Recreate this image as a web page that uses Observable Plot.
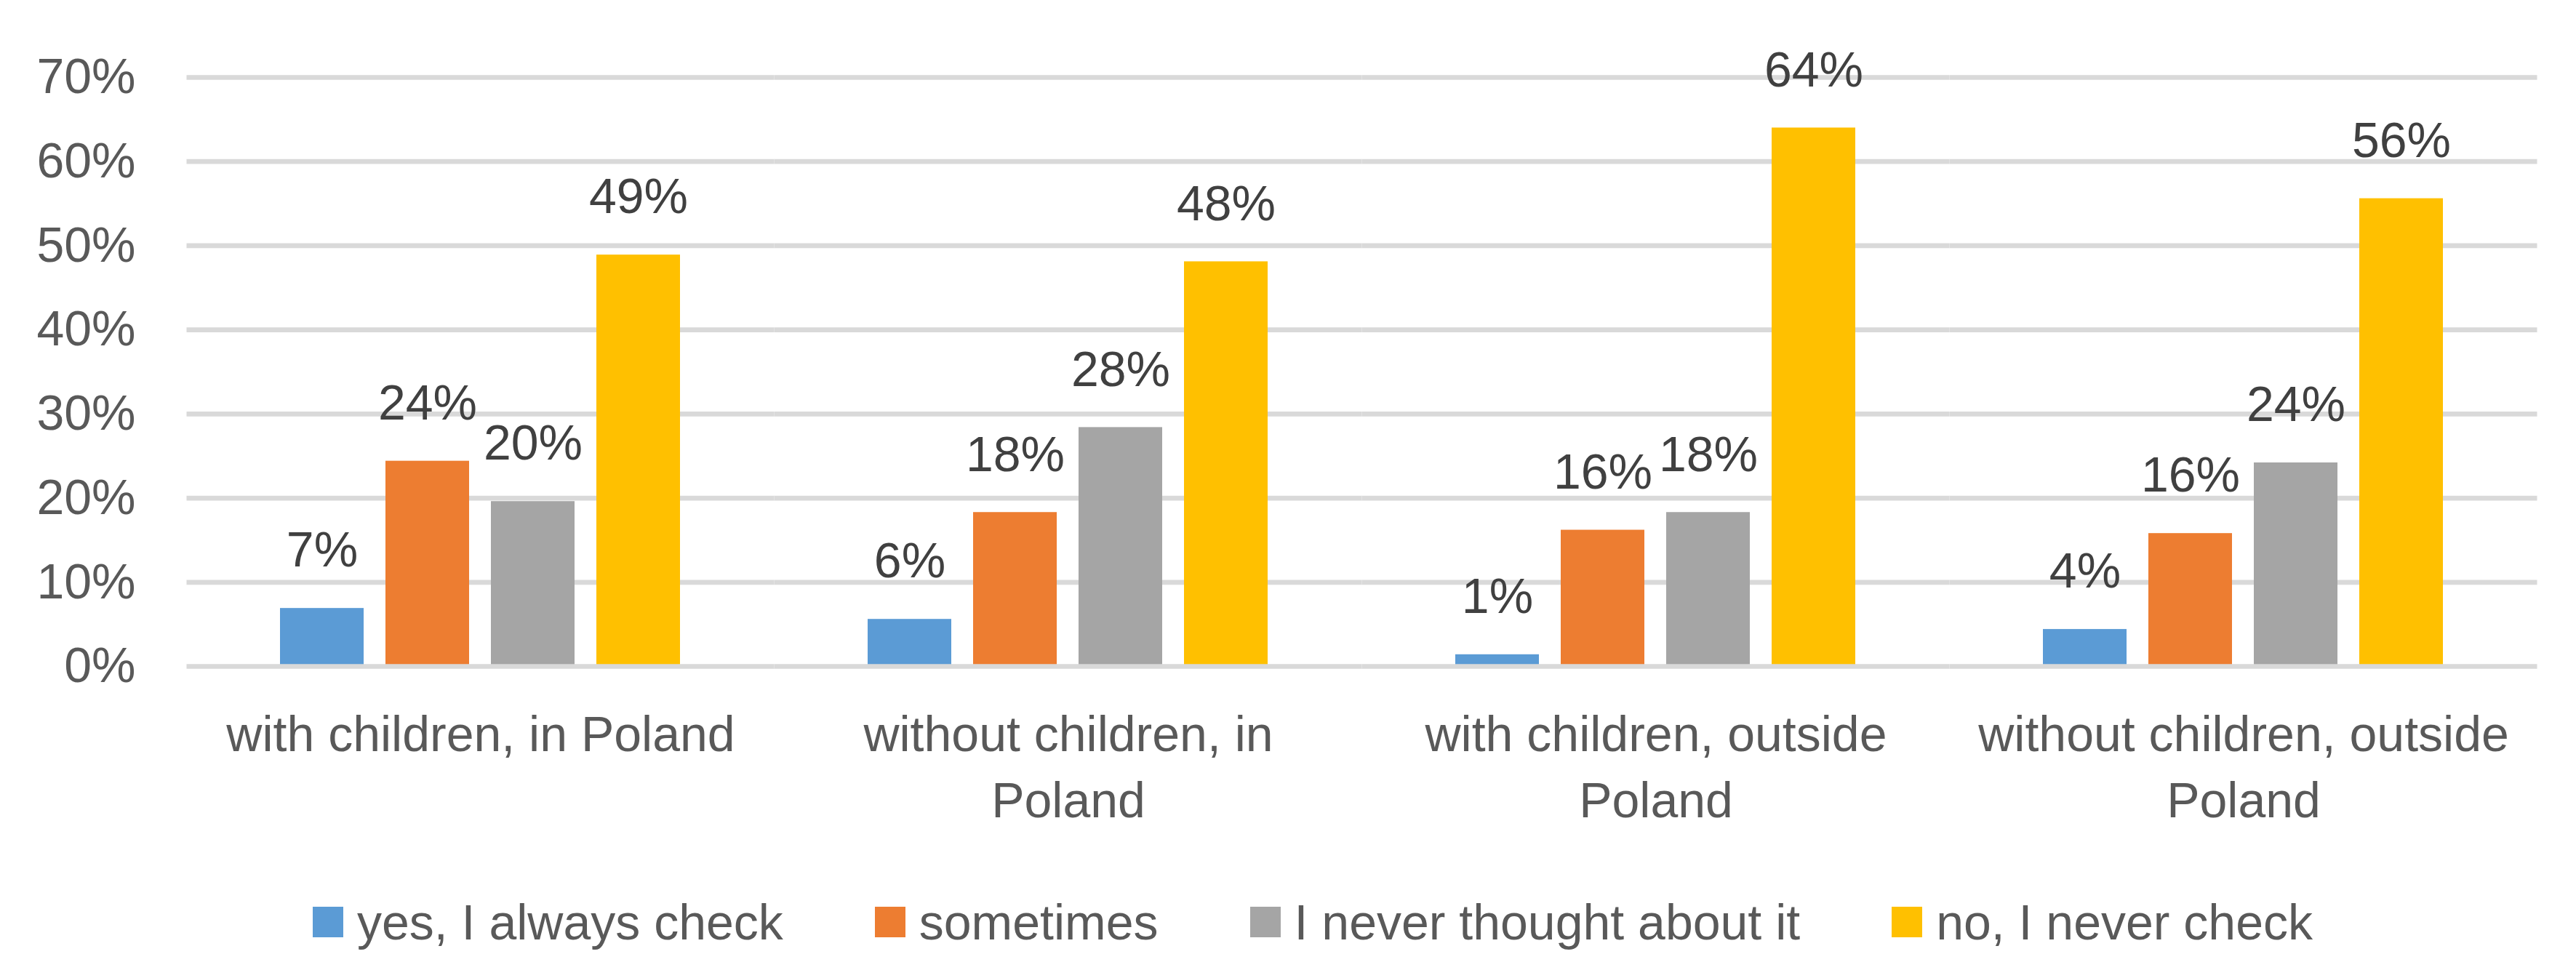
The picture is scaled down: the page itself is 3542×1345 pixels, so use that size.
<!DOCTYPE html>
<html>
<head>
<meta charset="utf-8">
<script src="https://cdn.jsdelivr.net/npm/d3@7"></script>
<script src="https://cdn.jsdelivr.net/npm/@observablehq/plot@0.6"></script>
<style>
  html, body { margin: 0; padding: 0; background: #fff; }
  #chart { width: 3542px; }
  #legend { width: 3542px; height: 155px; }
  #legend > div {
    display: flex; justify-content: center; align-items: center; flex-wrap: nowrap;
    height: 155px; margin: 0; padding-left: 68px; box-sizing: border-box;
    font-family: "Liberation Sans", Arial, sans-serif; font-size: 68px; color: #595959;
  }
  #legend span { display: inline-flex; align-items: center; margin-right: 126px; white-space: nowrap; }
  #legend span:last-child { margin-right: 0; }
  #legend span > svg { margin-right: 19px; }
</style>
</head>
<body>
<div id="chart"></div>
<div id="legend"></div>
<script>
const categories = [
  "with children, in Poland",
  "without children, in Poland",
  "with children, outside Poland",
  "without children, outside Poland"
];
const series = ["yes, I always check", "sometimes", "I never thought about it", "no, I never check"];
const yesAlwaysCheck = [6.9, 5.6, 1.4, 4.4];
const sometimes = [24.4, 18.3, 16.2, 15.8];
const neverThoughtAboutIt = [19.6, 28.4, 18.3, 24.2];
const noNeverCheck = [48.9, 48.1, 64.0, 55.6];
const seriesColors = ["#5b9bd5", "#ed7d31", "#a5a5a5", "#ffc000"];
const yTicks = [0, 10, 20, 30, 40, 50, 60, 70];

const seriesValues = [yesAlwaysCheck, sometimes, neverThoughtAboutIt, noNeverCheck];
const table = categories.flatMap((c, i) =>
  series.map((s, j) => ({category: c, series: s, value: seriesValues[j][i]}))
);
const pct = d => d3.format(".0f")(d) + "%";
const gridStyle = {stroke: "#d9d9d9", strokeWidth: 6.7, insetLeft: -127.5, insetRight: -127.5};

const chart = Plot.plot({
  width: 3542,
  height: 1190,
  marginLeft: 255,
  marginRight: 51,
  marginTop: 106,
  marginBottom: 274,
  style: {fontFamily: '"Liberation Sans", Arial, sans-serif', fontSize: "68px", color: "#595959", background: "#fff"},
  fx: {domain: categories, paddingInner: 0.315, paddingOuter: 0.1576, axis: null},
  x: {domain: series, paddingInner: 0.205, paddingOuter: 0, axis: null},
  y: {domain: [0, 70], ticks: yTicks, tickFormat: pct, tickSize: 0, tickPadding: 198, label: null},
  color: {domain: series, range: seriesColors},
  marks: [
    Plot.ruleY(yTicks.filter(t => t > 0), gridStyle),
    Plot.barY(table, {fx: "category", x: "series", y: "value", fill: "series"}),
    Plot.ruleY([0], gridStyle),
    Plot.text(table, {fx: "category", x: "series", y: "value", text: d => pct(d.value), dy: -79, fill: "#404040"}),
    Plot.text(categories, {fx: d => d, text: d => d, frameAnchor: "bottom", lineAnchor: "top", dy: 51, lineWidth: 12.3, lineHeight: 1.35, fill: "#595959"})
  ]
});
document.getElementById("chart").appendChild(chart);

const legend = Plot.legend({
  color: {domain: series, range: seriesColors},
  legend: "swatches",
  swatchSize: 42,
  className: "leg"
});
document.getElementById("legend").appendChild(legend);
</script>
</body>
</html>
